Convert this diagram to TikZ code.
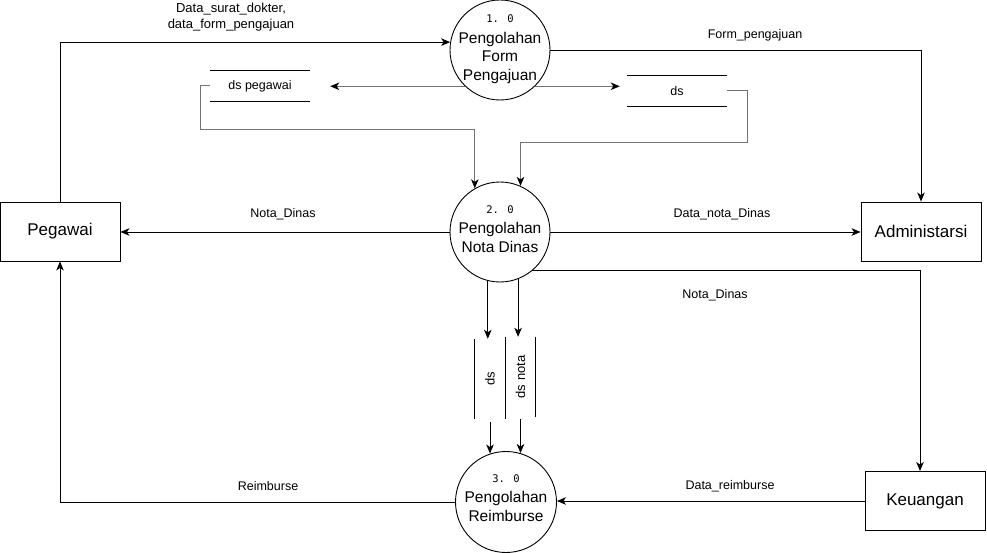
\documentclass[tikz,border=0pt]{standalone}
\usepackage{fontspec}
\usepackage{graphicx}
\setmainfont{Liberation Sans}
\newfontfamily\numf{DejaVu Sans Mono}
\usetikzlibrary{arrows.meta,calc}
\tikzset{
  ent/.style={draw, line width=0.9pt, minimum width=120pt, minimum height=59pt, inner sep=0pt, font=\fontsize{17}{20}\selectfont},
  proc/.style={draw, circle, line width=0.9pt, minimum size=100pt, inner sep=0pt},
  ptext/.style={align=center, inner sep=0pt, font=\fontsize{15.5}{18.5}\selectfont},
  hstore/.style={minimum width=100pt, minimum height=30pt, inner sep=0pt, font=\fontsize{12.5}{15}\selectfont,
    append after command={\pgfextra{\let\tn\tikzlastnode}
      (\tn.north west) edge[draw, line width=0.9pt] (\tn.north east)
      (\tn.south west) edge[draw, line width=0.9pt] (\tn.south east)}},
  vstore/.style={minimum width=30pt, minimum height=80pt, inner sep=0pt, font=\fontsize{13}{15}\selectfont,
    append after command={\pgfextra{\let\tn\tikzlastnode}
      (\tn.north west) edge[draw, line width=0.9pt] (\tn.south west)
      (\tn.north east) edge[draw, line width=0.9pt] (\tn.south east)}},
  arr/.style={draw, line width=0.9pt, -{Stealth[length=9pt,width=7.5pt,inset=2.5pt]}},
  garr/.style={draw=black!55, line width=1pt, -{Stealth[length=9pt,width=7.5pt,inset=2.5pt,color=black]}},
  lbl/.style={inner sep=0pt, align=center, font=\fontsize{12.5}{16}\selectfont},
  numtxt/.style={}
}
\newcommand{\pnum}[1]{{\numf\fontsize{10.5}{13}\selectfont #1}}
\begin{document}
\begin{tikzpicture}[x=1pt, y=-1pt]
\useasboundingbox (0,0) rectangle (987,553);
% entities
\node[ent] (peg) at (60,231.5) {Pegawai};
\node[ent] (adm) at (921,231.5) {Administarsi};
\node[ent] (keu) at (925,501) {Keuangan};
% processes
\node[proc] (p1) at (500,50) {};
\node[ptext] (p1t) at (500,49) {\pnum{1. 0}\\[2pt]Pengolahan\\Form\\Pengajuan};
\node[proc] (p2) at (500,232) {};
\node[ptext] (p2t) at (500,229) {\pnum{2. 0}\\[2pt]Pengolahan\\Nota Dinas};
\node[proc, minimum size=101pt] (p3) at (506,502) {};
\node[ptext] (p3t) at (506,498) {\pnum{3. 0}\\[2pt]Pengolahan\\Reimburse};
% data stores
\node[hstore] (dsp) at (260,86) {ds pegawai};
\node[hstore] (ds) at (677,91) {ds};
\node[vstore] (ds1) at (490,379) {\rotatebox{90}{ds}};
\node[vstore] (ds2) at (520.5,377) {\rotatebox{90}{ds nota}};
% helper coordinates
\coordinate (b1) at (200,130);
\coordinate (b2) at (747,143);
% flows
\draw[arr] (peg.north) |- (p1.171);
\draw[arr] (p1.east) -| (adm.north);
\draw[garr] (p1.226) -- ([xshift=20pt]p1.226 -| dsp.east);
\draw[garr] (p1.314) -- ([xshift=-7pt]p1.314 -| ds.west);
\draw[garr] (dsp.west) -| (b1) -| (p2.120);
\draw[garr] (ds.east) -| (b2) -| (p2.66);
\draw[arr] (p2.west) -- (p2.west -| peg.east);
\draw[arr] (p2.east) -- (p2.east -| adm.west);
\draw[arr] (p2.310) -| ([xshift=-5pt]keu.north);
\draw[arr] (p2.256) -- (p2.256 |- ds1.north);
\draw[arr] (p2.291) -- (p2.291 |- ds2.north);
\draw[arr] ([yshift=-3pt]ds1.south) -- (ds1.south |- p3.108);
\draw[arr] ([yshift=-2pt]ds2.south) -- (ds2.south |- p3.74);
\draw[arr] (p3.west) -| (peg.south);
\draw[arr] (keu.west) -- (keu.west -| p3.east);
% labels
\node[lbl] (l1) at (231,17) {\fontsize{13}{16}\selectfont Data\_surat\_dokter,\\\fontsize{13}{16}\selectfont data\_form\_pengajuan};
\node[lbl] (l2) at (755,35) {Form\_pengajuan};
\node[lbl] (l3) at (283,214) {Nota\_Dinas};
\node[lbl] (l4) at (722,214) {Data\_nota\_Dinas};
\node[lbl] (l5) at (715,295) {Nota\_Dinas};
\node[lbl] (l6) at (268,486) {Reimburse};
\node[lbl] (l7) at (730,486) {Data\_reimburse};
\end{tikzpicture}
\end{document}
